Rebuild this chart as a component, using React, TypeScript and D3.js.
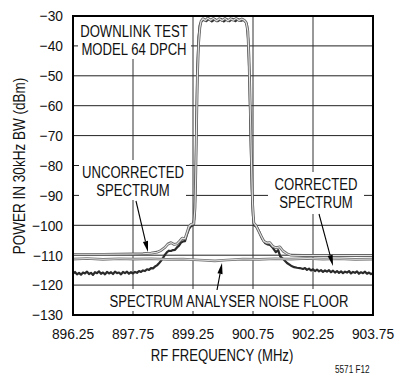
import React from "react";
import * as d3 from "d3";

const yTicks = [-30, -40, -50, -60, -70, -80, -90, -100, -110, -120, -130];
const xTicks = [896.25, 897.75, 899.25, 900.75, 902.25, 903.75];
const xTickLabels = ["896.25", "897.75", "899.25", "900.75", "902.25", "903.75"];

const uncorrF = [896.25, 897.0, 897.75, 898.0, 898.2, 898.35, 898.45, 898.55, 898.62, 898.7, 898.78, 898.85, 898.92, 898.98, 899.05, 899.1, 899.15, 899.2, 899.27, 899.3, 899.32, 899.34, 899.36, 899.39, 899.42, 899.45, 899.5, 899.56, 899.62, 899.69, 899.76, 899.84, 899.91, 899.98, 900.05, 900.12, 900.19, 900.26, 900.33, 900.4, 900.47, 900.53, 900.58, 900.62, 900.65, 900.68, 900.71, 900.74, 900.77, 900.82, 900.88, 900.95, 901.02, 901.1, 901.17, 901.25, 901.33, 901.42, 901.5, 901.6, 901.7, 902.0, 903.75];
const uncorrDb = [-109.7, -109.7, -109.6, -109.5, -109.3, -109.0, -108.4, -107.4, -106.3, -105.8, -106.4, -106.2, -105.2, -104.3, -104.5, -102.5, -100.4, -99.7, -99.5, -94, -82, -65, -50, -39, -34, -31.8, -30.9, -31.5, -30.7, -31.4, -30.8, -31.6, -30.9, -31.5, -30.8, -31.6, -30.9, -31.4, -30.8, -31.5, -31.0, -31.4, -32.2, -35, -44, -60, -78, -93, -99.2, -100, -101.6, -103.5, -105.3, -105.9, -105.8, -107.1, -107.5, -107.2, -108.6, -109.5, -110.0, -110.1, -110.1];

const corrF = [896.25, 896.3, 896.35, 896.4, 896.45, 896.5, 896.55, 896.6, 896.65, 896.7, 896.75, 896.8, 896.85, 896.9, 896.95, 897.0, 897.05, 897.1, 897.15, 897.2, 897.25, 897.3, 897.35, 897.4, 897.45, 897.5, 897.55, 897.6, 897.65, 897.7, 897.75, 897.8, 897.85, 897.9, 897.95, 898.0, 898.05, 898.1, 898.15, 898.2, 898.25, 898.3, 898.35, 898.4, 898.45, 898.5, 898.55, 898.6, 898.65, 898.7, 898.75, 898.8, 898.85, 898.9, 898.95, 899.0, 899.05, 899.1, 899.15, 899.2, 899.25, 899.28, 899.3, 899.32, 899.34, 899.36, 899.39, 899.42, 899.46, 899.52, 899.58, 899.65, 899.72, 899.8, 899.87, 899.95, 900.02, 900.09, 900.16, 900.24, 900.31, 900.38, 900.45, 900.51, 900.56, 900.6, 900.63, 900.66, 900.69, 900.72, 900.75, 900.78, 900.85, 900.92, 900.98, 901.05, 901.12, 901.18, 901.25, 901.32, 901.38, 901.43, 901.5, 901.6, 901.7, 901.78, 901.85, 901.92, 902.0, 902.05, 902.1, 902.15, 902.2, 902.25, 902.3, 902.35, 902.4, 902.45, 902.5, 902.55, 902.6, 902.65, 902.7, 902.75, 902.8, 902.85, 902.9, 902.95, 903.0, 903.05, 903.1, 903.15, 903.2, 903.25, 903.3, 903.35, 903.4, 903.45, 903.5, 903.55, 903.6, 903.65, 903.7, 903.75];
const corrDb = [-116.2, -115.6, -116.4, -115.9, -116.5, -115.8, -116.1, -115.5, -116.3, -115.9, -116.6, -115.7, -116.0, -115.4, -116.2, -115.8, -116.4, -115.6, -116.1, -115.7, -116.3, -115.5, -116.0, -115.8, -116.4, -115.6, -116.0, -115.5, -116.2, -115.7, -116.1, -115.6, -115.9, -115.3, -115.6, -115.1, -115.3, -114.7, -114.9, -114.3, -114.4, -113.8, -113.4, -112.7, -111.9, -110.9, -109.8, -109.0, -108.5, -108.6, -108.3, -108.2, -107.4, -106.8, -105.8, -105.4, -105.3, -103.0, -101.2, -100.3, -100.0, -98, -92, -80, -62, -47, -37, -33, -31.8, -31.2, -31.7, -31.0, -31.8, -31.1, -31.7, -31.0, -31.8, -31.1, -31.7, -31.0, -31.7, -31.1, -31.6, -31.3, -31.8, -33, -38, -50, -70, -88, -97, -100, -100.6, -102.6, -104.5, -105.9, -106.4, -106.6, -107.6, -109.0, -108.3, -110.4, -111.2, -112.6, -113.5, -114.0, -114.2, -114.3, -114.6, -114.3, -114.9, -114.5, -115.1, -114.7, -115.3, -114.8, -115.4, -115.0, -115.6, -115.1, -115.5, -115.0, -115.7, -115.2, -115.8, -115.3, -115.9, -115.4, -116.0, -115.5, -115.8, -115.3, -116.1, -115.6, -115.9, -115.4, -116.2, -115.7, -116.0, -115.5, -116.2, -115.8, -116.3, -116.0];

const noiseF = [896.25, 896.6, 897.0, 897.4, 897.8, 898.2, 898.6, 899.0, 899.4, 899.8, 900.1, 900.5, 900.9, 901.3, 901.7, 902.1, 902.5, 902.9, 903.3, 903.75];
const noiseDb = [-111.3, -111.1, -111.4, -111.2, -111.3, -111.2, -111.4, -111.3, -111.6, -111.9, -111.6, -111.3, -111.4, -111.2, -111.3, -111.1, -111.3, -111.2, -111.4, -111.3];

const FONT = "'Liberation Sans', Arial, sans-serif";

function T({ x, y, s = 0.82, size = 16, anchor = "middle", rot = 0, children }: any) {
  return (
    <text
      transform={`translate(${x},${y}) rotate(${rot}) scale(${s},1)`}
      textAnchor={anchor}
      fontSize={size}
      fill="#111"
    >
      {children}
    </text>
  );
}

function Arrow({ x1, y1, x2, y2 }: { x1: number; y1: number; x2: number; y2: number }) {
  const ang = Math.atan2(y2 - y1, x2 - x1);
  const L = 11, W = 2.6;
  const bx = x2 - L * Math.cos(ang), by = y2 - L * Math.sin(ang);
  const px = -Math.sin(ang) * W, py = Math.cos(ang) * W;
  return (
    <g>
      <line x1={x1} y1={y1} x2={bx} y2={by} stroke="#000" strokeWidth={1.1} />
      <path d={`M${x2},${y2}L${bx + px},${by + py}L${bx - px},${by - py}Z`} fill="#000" />
    </g>
  );
}

export default function App() {
  const x = d3.scaleLinear().domain([896.25, 903.75]).range([73, 373]);
  const y = d3.scaleLinear().domain([-130, -30]).range([315, 16]);
  const line = d3.line<[number, number]>().x((d) => x(d[0])).y((d) => y(d[1])).curve(d3.curveLinear);
  const uncorr = line(uncorrF.map((f, i) => [f, uncorrDb[i]]) as [number, number][]) || "";
  const corr = line(corrF.map((f, i) => [f, corrDb[i]]) as [number, number][]) || "";
  const noise = line(noiseF.map((f, i) => [f, noiseDb[i]]) as [number, number][]) || "";

  return (
    <svg width={396} height={375} style={{ position: "absolute", left: 0, top: 0, background: "#fff" }} fontFamily={FONT}>
      <rect x={0} y={0} width={396} height={375} fill="#fff" />
      {yTicks.slice(1, -1).map((t) => (
        <line key={"h" + t} x1={73} x2={373} y1={y(t)} y2={y(t)} stroke="#222" strokeWidth={1} />
      ))}
      {xTicks.slice(1, -1).map((t) => (
        <line key={"v" + t} x1={x(t)} x2={x(t)} y1={16} y2={315} stroke="#333" strokeWidth={1} />
      ))}
      <rect x={78} y={17} width={113} height={42} fill="#fff" />
      <rect x={79} y={160} width={107} height={40} fill="#fff" />
      <rect x={268} y={172} width={96} height={42} fill="#fff" />
      <rect x={104} y={289} width={250} height={22} fill="#fff" />
      <path d={corr} fill="none" stroke="#2a2a2a" strokeWidth={2.2} strokeLinejoin="round" />
      <path d={noise} fill="none" stroke="#777" strokeWidth={2.6} />
      <path d={noise} fill="none" stroke="#e6e6e6" strokeWidth={0.9} />
      <path d={uncorr} fill="none" stroke="#666" strokeWidth={2.8} strokeLinejoin="round" />
      <path d={uncorr} fill="none" stroke="#e4e4e4" strokeWidth={1.1} strokeLinejoin="round" />
      <rect x={73} y={16} width={300} height={299} fill="none" stroke="#000" strokeWidth={2} />
      {yTicks.map((t) => (
        <T key={"yl" + t} x={63} y={y(t) + 5.3} s={0.92} size={15} anchor="end">
          {"\u2212" + Math.abs(t)}
        </T>
      ))}
      {xTicks.map((t, i) => (
        <T key={"xl" + t} x={x(t)} y={339} s={0.92} size={15}>
          {xTickLabels[i]}
        </T>
      ))}
      <T x={222} y={361}>RF FREQUENCY (MHz)</T>
      <T x={25} y={166} rot={-90} size={16.5}>POWER IN 30kHz BW (dBm)</T>
      <T x={335} y={373} size={10} anchor="start">5571 F12</T>
      <T x={134} y={37}>DOWNLINK TEST</T>
      <T x={134} y={55}>MODEL 64 DPCH</T>
      <T x={133} y={178}>UNCORRECTED</T>
      <T x={133} y={196}>SPECTRUM</T>
      <T x={316} y={190}>CORRECTED</T>
      <T x={316} y={208}>SPECTRUM</T>
      <T x={229} y={307}>SPECTRUM ANALYSER NOISE FLOOR</T>
      <Arrow x1={136} y1={201} x2={148} y2={252} />
      <Arrow x1={319} y1={214} x2={333} y2={266} />
      <Arrow x1={217} y1={290} x2={222} y2={263} />
    </svg>
  );
}
